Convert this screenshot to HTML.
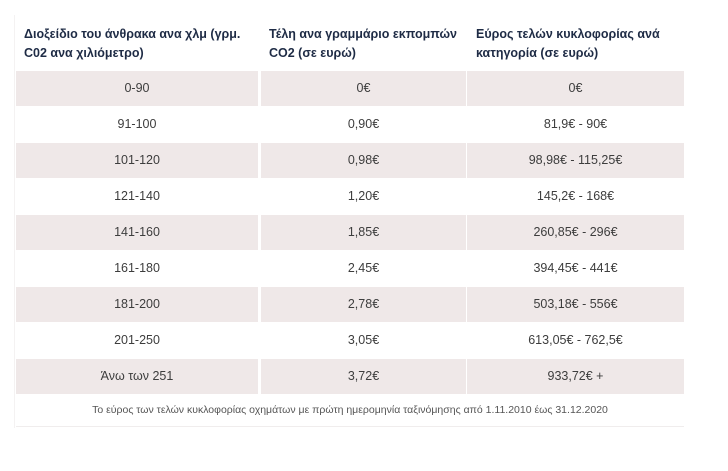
<!DOCTYPE html>
<html><head><meta charset="utf-8"><style>
body{margin:0;width:728px;height:471px;background:#fff;font-family:"Liberation Sans","DejaVu Sans",sans-serif;position:relative;overflow:hidden}
.h{position:absolute;top:25px;font-size:12.5px;font-weight:bold;color:#1e2b45;line-height:19px}
.c{position:absolute;height:35px;line-height:35px;text-align:center;font-size:12.5px;color:#3d3d3d}
.p{background:#efe8e8}
.cap{position:absolute;top:403px;left:16px;width:668px;text-align:center;font-size:10.5px;line-height:14px;color:#555}
.line{position:absolute;top:426px;left:16px;width:668px;height:1px;background:#f0eded}
.box{position:absolute;left:14px;top:15px;width:1px;height:413px;background:#f4f2f2}
</style></head><body>
<div class="box"></div>
<div class="h" style="left:24px">Διοξείδιο του άνθρακα ανα χλμ (γρμ.<br>C02 ανα χιλιόμετρο)</div>
<div class="h" style="left:269px">Τέλη ανα γραμμάριο εκπομπών<br>CO2 (σε ευρώ)</div>
<div class="h" style="left:476px">Εύρος τελών κυκλοφορίας ανά<br>κατηγορία (σε ευρώ)</div>
<div id="rows"></div>
<div class="cap">Το εύρος των τελών κυκλοφορίας οχημάτων με πρώτη ημερομηνία ταξινόμησης από 1.11.2010 έως 31.12.2020</div>
<div class="line"></div>
<script>
const ranges=["0-90","91-100","101-120","121-140","141-160","161-180","181-200","201-250","Άνω των 251"];
const perGram=["0€","0,90€","0,98€","1,20€","1,85€","2,45€","2,78€","3,05€","3,72€"];
const feeRange=["0€","81,9€ - 90€","98,98€ - 115,25€","145,2€ - 168€","260,85€ - 296€","394,45€ - 441€","503,18€ - 556€","613,05€ - 762,5€","933,72€ +"];
const cols=[[16,242],[261,205],[467,217]];
const root=document.getElementById('rows');
ranges.forEach((r,i)=>{
  const vals=[r,perGram[i],feeRange[i]];
  const names=['range-cell','per-gram-cell','fee-range-cell'];
  vals.forEach((v,j)=>{
    const d=document.createElement('div');
    d.className='c'+(i%2===0?' p':'');
    d.style.left=cols[j][0]+'px';d.style.width=cols[j][1]+'px';
    d.style.top=(71+i*36)+'px';
    d.textContent=v;
    
    
    root.appendChild(d);
  });
});
</script>
</body></html>
